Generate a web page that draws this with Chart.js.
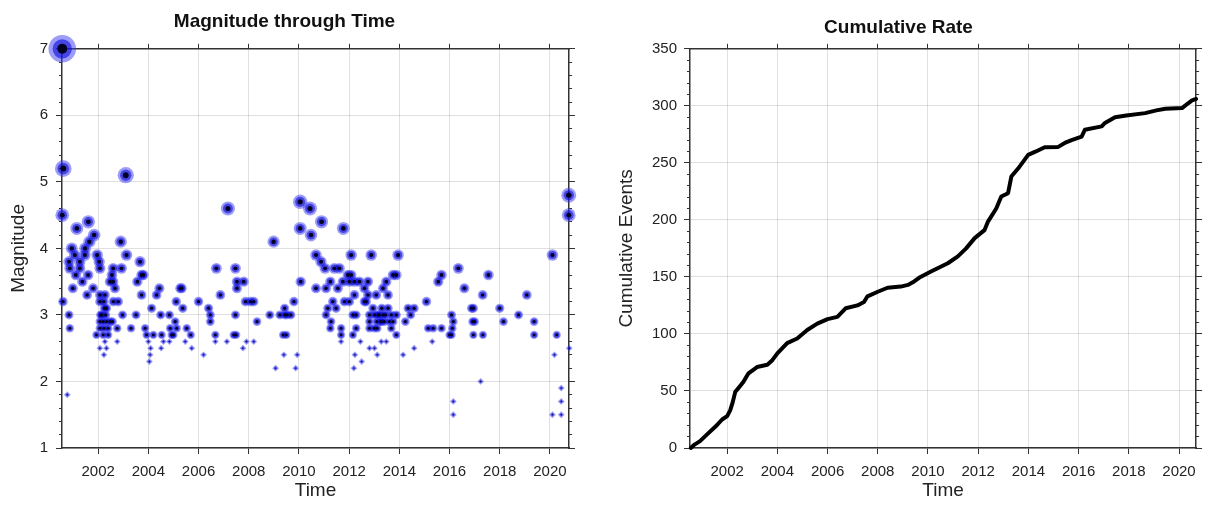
<!DOCTYPE html>
<html>
<head>
<meta charset="utf-8">
<script src="https://cdn.jsdelivr.net/npm/chart.js@4.4.1/dist/chart.umd.min.js"></script>
<style>
html, body { margin: 0; padding: 0; background: #fff; }
#wrap { position: relative; width: 1205px; height: 507px; }
#magChart { position: absolute; left: 0; top: 0; }
#cumChart { position: absolute; left: 600px; top: 0; }
</style>
</head>
<body>
<div id="wrap">
  <canvas id="magChart" width="600" height="507"></canvas>
  <canvas id="cumChart" width="605" height="507"></canvas>
</div>
<script>
// event times (decimal years) and magnitudes
const eventYears = [
  2000.57, 2000.61, 2000.57, 2001.15, 2001.61, 2001.84, 2001.65, 2000.95, 2001.48, 2003.1,
  2002.9, 2007.17, 2008.99, 2010.05, 2010.05, 2010.44, 2010.9, 2010.48, 2011.77, 2020.75,
  2020.75,
  2000.6, 2000.84, 2000.87, 2000.77, 2000.84, 2000.87, 2001.27, 2001.27, 2001.11, 2001.37,
  2000.99, 2001.6, 2001.56, 2001.8, 2001.47, 2001.07, 2001.96, 2002.04, 2002.07, 2002.07,
  2002.27, 2002.07, 2002.23, 2002.33, 2002.07, 2002.2, 2002.33, 2002.47, 2002.07, 2002.23,
  2001.93, 2002.2, 2002.27, 2002.07, 2002.33, 2002.23, 2002.4, 2002.3, 2002.47, 2002.6,
  2002.67, 2002.55, 2002.6, 2002.93, 2002.6, 2002.8, 2002.76, 2002.76, 2002.57, 2002.97,
  2003.13, 2003.31, 2003.51, 2003.56, 2003.67, 2003.73, 2003.8, 2003.73, 2003.87, 2003.93,
  2004.0, 2004.09, 2004.07, 2004.04, 2004.13, 2004.2, 2004.33, 2004.44, 2004.49, 2004.53,
  2004.51, 2004.6, 2004.84, 2004.87, 2004.93, 2005.0, 2005.07, 2005.11, 2005.27, 2005.33,
  2005.37, 2005.53, 2005.47, 2005.69, 2005.73, 2004.84, 2005.13, 2006.0, 2006.2, 2006.4,
  2006.47, 2006.47, 2006.71, 2006.67, 2006.67, 2006.87, 2007.13, 2007.47, 2007.53, 2007.53,
  2007.47, 2007.4, 2007.5, 2007.8, 2007.77, 2007.87, 2008.07, 2008.2, 2007.91, 2008.2,
  2008.33, 2008.84, 2009.07, 2009.24, 2009.43, 2009.43, 2009.53, 2009.37, 2009.5, 2009.4,
  2009.8, 2009.87, 2009.93, 2010.07, 2009.68,
  2010.68, 2010.88, 2011.04, 2011.41, 2011.61, 2012.08, 2012.88, 2013.95, 2020.1, 2010.68,
  2011.08, 2011.25, 2011.55, 2011.75, 2012.01, 2011.95, 2012.08, 2012.21, 2012.41, 2012.75,
  2012.61, 2012.21, 2012.61, 2012.68, 2012.75, 2013.08, 2013.35, 2013.48, 2013.55, 2013.75,
  2013.88, 2011.35, 2011.81, 2012.01, 2011.15, 2011.48, 2011.08, 2011.28, 2011.25, 2011.68,
  2011.68, 2011.68, 2012.15, 2012.28, 2012.15, 2012.28, 2012.45, 2012.23, 2012.19, 2012.5,
  2012.81, 2013.01, 2012.81, 2012.81, 2013.1, 2013.15, 2013.28, 2013.35, 2013.55, 2013.68,
  2013.88, 2013.68, 2013.88, 2013.12, 2013.28, 2013.48, 2012.81, 2013.01, 2013.12, 2014.24,
  2014.35, 2014.59, 2014.45, 2014.15, 2014.59, 2015.08, 2015.15, 2015.35, 2015.68, 2015.31,
  2015.55, 2015.68, 2016.08, 2016.15, 2016.11, 2016.08, 2016.0, 2016.15, 2016.15, 2016.35,
  2016.59, 2016.95, 2016.88, 2017.0, 2016.92, 2016.95, 2017.33, 2017.32, 2017.55, 2017.24,
  2018.0, 2018.15, 2018.75, 2019.08, 2019.37, 2019.37, 2020.27, 2020.18, 2020.45, 2020.45,
  2020.45, 2020.1, 2020.77,
  2013.2, 2013.25, 2013.4, 2013.45, 2013.6, 2013.0, 2013.75, 2012.95, 2013.3,
  2002.15, 2002.4, 2002.25, 2002.1
];
const eventMags = [
  7.0, 5.2, 4.5, 4.3, 4.4, 4.2, 4.1, 4.0, 4.0, 5.1,
  4.1, 4.6, 4.1, 4.7, 4.3, 4.6, 4.4, 4.2, 4.3, 4.8,
  4.5,
  3.2, 3.0, 2.8, 1.8, 3.8, 3.7, 3.8, 3.7, 3.6, 3.5,
  3.4, 3.6, 3.3, 3.4, 3.9, 3.9, 3.9, 3.8, 3.7, 3.3,
  3.3, 3.2, 3.2, 3.1, 2.9, 2.9, 2.9, 2.9, 2.8, 2.8,
  2.7, 2.7, 2.6, 2.5, 2.5, 2.4, 2.7, 3.0, 3.5, 3.5,
  3.4, 3.6, 3.7, 3.7, 3.2, 3.2, 2.8, 2.6, 2.9, 3.0,
  3.9, 2.8, 3.0, 3.5, 3.8, 3.6, 3.6, 3.3, 2.8, 2.7,
  2.6, 2.5, 2.4, 2.3, 3.1, 2.7, 3.3, 3.4, 3.0, 2.7,
  2.5, 2.6, 3.0, 2.8, 2.7, 2.7, 2.9, 3.2, 3.4, 3.4,
  3.1, 2.8, 2.6, 2.7, 2.5, 2.6, 2.8, 3.2, 2.4, 3.1,
  3.0, 2.9, 3.7, 2.7, 2.6, 3.3, 2.6, 3.7, 3.5, 3.4,
  3.0, 2.7, 2.7, 3.5, 2.5, 3.2, 3.2, 3.2, 2.6, 2.6,
  2.9, 3.0, 2.2, 3.0, 3.1, 3.0, 3.0, 2.7, 2.7, 2.4,
  3.2, 2.2, 2.4, 3.5, 3.0,
  3.9, 3.8, 3.7, 3.7, 3.7, 3.9, 3.9, 3.9, 3.9, 3.4,
  3.4, 3.5, 3.4, 3.5, 3.5, 3.6, 3.6, 3.5, 3.5, 3.5,
  3.4, 3.3, 3.2, 3.2, 3.3, 3.3, 3.4, 3.5, 3.3, 3.6,
  3.6, 3.2, 3.2, 3.2, 3.1, 3.1, 3.0, 2.9, 2.8, 2.8,
  2.7, 2.6, 3.0, 3.0, 2.7, 2.8, 2.6, 2.4, 2.2, 2.3,
  3.0, 3.0, 2.9, 2.8, 2.9, 3.0, 2.9, 3.0, 3.1, 3.0,
  3.0, 2.8, 2.7, 2.8, 2.6, 2.6, 2.5, 2.5, 2.4, 2.9,
  3.1, 3.1, 3.0, 2.4, 2.5, 3.2, 2.8, 2.8, 2.8, 2.6,
  3.5, 3.6, 3.0, 2.9, 2.8, 2.7, 2.7, 1.7, 1.5, 3.7,
  3.4, 3.1, 3.1, 2.9, 2.9, 2.7, 2.7, 3.3, 3.6, 2.0,
  3.1, 2.9, 3.0, 3.3, 2.9, 2.7, 2.7, 2.4, 1.9, 1.7,
  1.5, 1.5, 2.5,
  3.0, 2.9, 2.9, 3.0, 2.9, 2.8, 2.9, 3.1, 3.1,
  3.0, 2.8, 3.1, 3.0
];

// cumulative number of events through time
const cumYears = [
  2000.55, 2000.7, 2000.92, 2001.2, 2001.59, 2001.8, 2002.0, 2002.12, 2002.22, 2002.32,
  2002.5, 2002.65, 2002.85, 2003.19, 2003.6, 2003.8, 2004.0, 2004.39, 2004.79, 2005.19,
  2005.59, 2006.0, 2006.39, 2006.72, 2007.19, 2007.45, 2007.59, 2008.0, 2008.39, 2008.92,
  2009.2, 2009.45, 2009.7, 2010.12, 2010.79, 2011.19, 2011.52, 2011.86, 2012.25, 2012.39,
  2012.72, 2012.92, 2013.19, 2013.32, 2013.59, 2013.99, 2014.3, 2014.65, 2015.19, 2015.5,
  2015.72, 2016.12, 2016.25, 2016.92, 2017.05, 2017.45, 2017.9, 2018.65, 2019.1, 2019.45,
  2020.12, 2020.35, 2020.52, 2020.68
];
const cumCounts = [
  0, 3, 6, 12, 20, 25, 28, 33, 40, 49,
  54, 58, 65.5, 71, 73, 77, 83, 92, 96, 103.5,
  109, 113, 115, 122.5, 125, 128, 133, 137, 140.5, 141.5,
  143, 146, 150, 154.7, 162, 168, 175, 184, 191, 198.5,
  210, 220.5, 223.4, 238, 245, 257, 260, 263.7, 264, 268,
  270, 273, 279, 282, 285, 290, 291.5, 293.6, 296, 297.4,
  298, 302, 304.7, 306
];

Chart.defaults.font.family = '"Liberation Sans", Arial, Helvetica, sans-serif';
Chart.defaults.color = '#222';
Chart.defaults.animation = false;

const gridColor = 'rgba(0,0,0,0.12)';
const axisColor = '#333';

// marker size grows with magnitude; the small events are drawn as diamonds
function magOf(ctx) { return ctx.raw ? ctx.raw.y : 3; }
function isSmall(m) { return m < 2.65; }
function haloRadius(m) { return isSmall(m) ? 3.4 : 4.5 * Math.exp(0.28 * (m - 3)); }
function styleOf(ctx) { return isSmall(magOf(ctx)) ? 'rectRot' : 'circle'; }

function markerLayer(label, order, color, scale, smallScale) {
  return {
    label: label, data: magPoints, order: order, clip: false,
    backgroundColor: color, borderWidth: 0,
    pointRadius: ctx => {
      const m = magOf(ctx);
      return haloRadius(m) * (isSmall(m) ? smallScale : scale);
    },
    pointStyle: styleOf
  };
}

// builds the bottom and top time axes used by both panels
function timeAxes(xMin, xMax) {
  return {
    x: {
      type: 'linear', position: 'bottom', min: xMin, max: xMax,
      ticks: { stepSize: 2, includeBounds: false, autoSkip: false, maxRotation: 0,
               font: { size: 15 }, padding: 9, callback: v => String(v) },
      grid: { color: gridColor, tickColor: axisColor, tickLength: 6 },
      border: { color: axisColor, width: 1.5 },
      title: { display: true, text: 'Time', font: { size: 19 }, padding: { bottom: 5 } },
      afterFit: s => { s.height = 59; }
    },
    xTop: {
      type: 'linear', position: 'top', min: xMin, max: xMax,
      ticks: { display: false, stepSize: 2, includeBounds: false },
      grid: { drawOnChartArea: false, tickColor: axisColor, tickLength: 5 },
      border: { color: axisColor, width: 1.5 },
      afterFit: s => { s.height = 0; }
    }
  };
}

function valueAxes(yMin, yMax, step, minor, label, width, titlePad, tickPad) {
  const side = (pos, st, len, w) => ({
    type: 'linear', position: pos, min: yMin, max: yMax,
    ticks: { display: false, stepSize: st },
    grid: { drawOnChartArea: false, tickColor: axisColor, tickLength: len },
    border: { display: w, color: axisColor, width: 1.5 },
    afterFit: s => { s.width = 0; }
  });
  return {
    y: {
      type: 'linear', position: 'left', min: yMin, max: yMax, weight: 1,
      ticks: { stepSize: step, font: { size: 15 }, padding: tickPad },
      grid: { color: gridColor, tickColor: axisColor, tickLength: 6 },
      border: { color: axisColor, width: 1.5 },
      title: { display: true, text: label, font: { size: 19 }, padding: { top: titlePad } },
      afterFit: s => { s.width = width; }
    },
    yMinor: Object.assign(side('left', minor, 3, false), { weight: 0 }),
    yRight: side('right', step, 6, true),
    yRightMinor: side('right', minor, 3, false)
  };
}

const magPoints = eventYears.map((x, i) => ({ x: x, y: eventMags[i] }));

new Chart(document.getElementById('magChart'), {
  type: 'scatter',
  data: {
    datasets: [
      markerLayer('core', 0, '#000022', 0.36, 0.2),
      markerLayer('inner', 1, 'rgba(10,10,220,0.6)', 0.7, 0.55),
      markerLayer('halo', 2, 'rgba(60,60,240,0.5)', 1.0, 1.0)
    ]
  },
  options: {
    responsive: false,
    events: [],
    layout: { padding: { left: 0, right: 31, top: 0, bottom: 0 } },
    plugins: {
      legend: { display: false },
      tooltip: { enabled: false },
      title: { display: true, text: 'Magnitude through Time', color: '#111',
               font: { size: 19, weight: 'bold' }, padding: { top: 10, bottom: 16 } }
    },
    scales: Object.assign(timeAxes(2000.56, 2020.76),
                          valueAxes(1, 7, 1, 0.2, 'Magnitude', 62, 7, 8))
  }
});

new Chart(document.getElementById('cumChart'), {
  type: 'scatter',
  data: {
    datasets: [{
      label: 'Cumulative Events',
      data: cumYears.map((x, i) => ({ x: x, y: cumCounts[i] })),
      showLine: true, borderColor: '#000', borderWidth: 4, pointRadius: 0,
      borderJoinStyle: 'round', borderCapStyle: 'round', clip: false
    }]
  },
  options: {
    responsive: false,
    events: [],
    layout: { padding: { left: 0, right: 8, top: 0, bottom: 0 } },
    plugins: {
      legend: { display: false },
      tooltip: { enabled: false },
      title: { display: true, text: 'Cumulative Rate', color: '#111',
               font: { size: 19, weight: 'bold' }, padding: { top: 16, bottom: 10 } }
    },
    scales: Object.assign(timeAxes(2000.52, 2020.68),
                          valueAxes(0, 350, 50, 10, 'Cumulative Events', 90, 15, 7))
  }
});
</script>
</body>
</html>
